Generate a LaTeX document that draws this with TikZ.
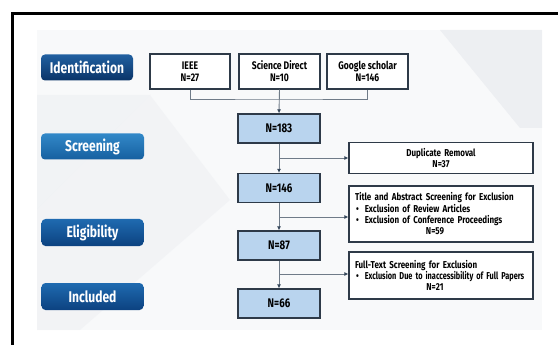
\documentclass[tikz,border=0pt]{standalone}
\usepackage{fontspec}
\newfontfamily\cond[FakeStretch=0.78]{Fira Sans}
\newfontfamily\condnote[FakeStretch=0.8]{Fira Sans}
\usetikzlibrary{arrows.meta}

\definecolor{boxline}{HTML}{2E3A48}
\definecolor{nfill}{HTML}{B9D4EE}
\definecolor{connc}{HTML}{6F7B88}
\definecolor{tipc}{HTML}{34465A}
\definecolor{panel}{HTML}{F8F9FA}
\definecolor{facet}{HTML}{EDEFF2}

\begin{document}
\begin{tikzpicture}[x=1pt,y=-1pt,
  phase/.style={rounded corners=4pt, text=white, inner sep=0pt,
    minimum height=26pt, font=\cond\bfseries\fontsize{15.5}{15.5}\selectfont},
  src/.style={draw=boxline, line width=1.2pt, fill=white, inner sep=0pt,
    minimum width=81pt, minimum height=35pt, align=center,
    font=\cond\bfseries\fontsize{11}{12}\selectfont},
  count/.style={draw=boxline, line width=1.3pt, fill=nfill, inner sep=0pt,
    minimum width=82pt, minimum height=29pt,
    font=\cond\bfseries\fontsize{12.5}{12.5}\selectfont},
  note/.style={draw=boxline, line width=1.2pt, fill=white,
    inner xsep=4pt, inner ysep=6pt, text width=176pt, align=left,
    font=\condnote\bfseries\fontsize{10}{11.3}\selectfont},
  conn/.style={draw=connc, line width=0.9pt},
  flow/.style={conn, -{Latex[length=4pt,width=4pt,color=tipc]}}
]
\useasboundingbox (0,0) rectangle (558,345);

% page frame
\draw[line width=3pt] (12.5,345) -- (12.5,14) -- (558,14);

% light backdrop with faint facets
\fill[panel] (37,30) rectangle (542,330);
\fill[facet] (440,30) -- (542,30) -- (542,128) -- (520,128) -- cycle;
\fill[facet,opacity=0.6] (37,95) -- (150,95) -- (37,210) -- cycle;
\fill[facet,opacity=0.5] (150,95) -- (230,200) -- (80,330) -- (37,330) -- (37,210) -- cycle;

% stage labels
\node[phase, minimum width=92pt,
      top color={rgb,255:red,33;green,96;blue,160}, bottom color={rgb,255:red,10;green,52;blue,104}]
  (ident) at (87,67.5) {Identification};
\node[phase, minimum width=103pt,
      top color={rgb,255:red,50;green,136;blue,200}, bottom color={rgb,255:red,22;green,96;blue,160}]
  (scr) at (92.5,146.5) {Screening};
\node[phase, minimum width=102pt, minimum height=27pt,
      top color={rgb,255:red,31;green,106;blue,176}, bottom color={rgb,255:red,12;green,66;blue,128}]
  (elig) at (92.5,232.5) {Eligibility};
\node[phase, minimum width=102pt, minimum height=27pt,
      top color={rgb,255:red,31;green,106;blue,176}, bottom color={rgb,255:red,12;green,66;blue,128}]
  (incl) at (92.5,296.5) {Included};

% sources
\node[src, minimum width=80pt] (ieee) at (190,71.5) {IEEE\\N=27};
\node[src] (sd) at (279.5,71.5) {Science Direct\\N=10};
\node[src] (gs) at (367.5,71.5) {Google scholar\\N=146};

% record counts
\node[count] (n183) at (279,128.5) {N=183};
\node[count] (n146) at (279,188) {N=146};
\node[count] (n87) at (279,245.5) {N=87};
\node[count] (n66) at (279,303.5) {N=66};

% exclusion notes
\node[note, minimum height=30pt, align=center] (dup) at (441,158)
  {Duplicate Removal\\N=37};
\node[note, minimum height=56pt] (tas) at (441,214)
  {\hspace*{2pt}Title and Abstract Screening for Exclusion\\
   \hspace*{3pt}\textbullet\hspace{6pt}Exclusion of Review Articles\\
   \hspace*{3pt}\textbullet\hspace{6pt}Exclusion of Conference Proceedings\\
   \makebox[\linewidth][c]{\hspace*{-12pt}N=59}};
\node[note, minimum height=47pt] (fts) at (441,275.5)
  {\hspace*{2pt}Full-Text Screening for Exclusion\\
   \hspace*{3pt}\textbullet\hspace{6pt}\scalebox{0.92}[1]{Exclusion Due to inaccessibility of Full Papers}\\
   \makebox[\linewidth][c]{\hspace*{-12pt}N=21}};

% merging the sources
\coordinate (bar) at (279,99);
\draw[conn] (ieee.south) |- (bar) -| (gs.south);
\draw[flow] (sd.south) -- (n183.north);

% main flow
\draw[flow] (n183.south) -- (n146.north);
\draw[flow] (n146.south) -- (n87.north);
\draw[flow] (n87.south) -- (n66.north);

% branches to the exclusions
\draw[flow] (n183.south |- dup.west) -- (dup.west);
\draw[flow] (n146.south |- 0,217) -- (tas.west |- 0,217);
\draw[flow] (n87.south |- 0,274) -- (fts.west |- 0,274);
\end{tikzpicture}
\end{document}
